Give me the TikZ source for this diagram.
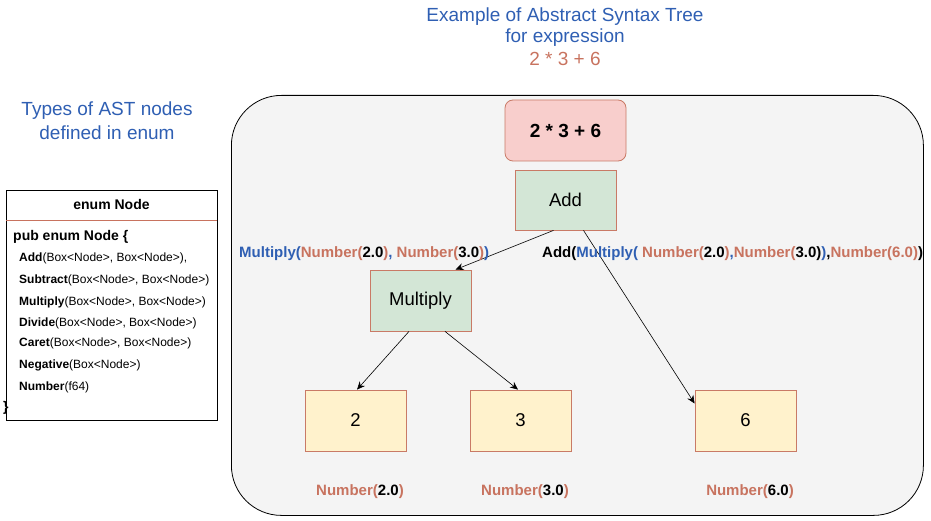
\documentclass[tikz,border=0pt]{standalone}
\usepackage{fontspec}
\setmainfont{Liberation Sans}
\usetikzlibrary{arrows.meta}
\definecolor{astblue}{HTML}{2F5FB3}
\definecolor{salmon}{HTML}{C8735F}
\definecolor{bstroke}{HTML}{C97A66}
\definecolor{pinkfill}{HTML}{F8CECC}
\definecolor{greenfill}{HTML}{D3E6D6}
\definecolor{yellowfill}{HTML}{FFF2CC}
\definecolor{bgc}{HTML}{F4F4F4}
\newcommand{\fs}[1]{\fontsize{#1}{#1}\selectfont}
\newcommand{\sal}[1]{\textcolor{salmon}{#1}}
\newcommand{\blu}[1]{\textcolor{astblue}{#1}}
\begin{document}
\begin{tikzpicture}[x=1pt,y=-1pt,
  treebox/.style={draw=bstroke, line width=0.8pt, minimum width=101pt, minimum height=61pt, inner sep=0pt, font=\fs{18.5}},
  opbox/.style={treebox, fill=greenfill},
  numbox/.style={treebox, fill=yellowfill},
  conn/.style={-{Stealth[length=8pt,width=7pt]}, line width=0.6pt, black},
  lbl/.style={inner sep=0pt, font=\bfseries\fs{15}},
  title/.style={inner sep=0pt, font=\fs{19}, text=astblue},
  enumtxt/.style={inner sep=0pt, anchor=west, font=\fs{12}}
]
\useasboundingbox (0,0) rectangle (931,521);
% panel
\node[draw=black, line width=0.8pt, fill=bgc, rounded corners=50pt, minimum width=692pt, minimum height=420pt, anchor=north west, inner sep=0pt] (panel) at (231,95) {};
% titles
\node[title] (t1) at (565,16.5) {Example of Abstract Syntax Tree};
\node[title] (t2) at (565,37.5) {for expression};
\node[title, text=salmon] (t3) at (565,59) {2 * 3 + 6};
\node[title] (ty1) at (107,111) {Types of AST nodes};
\node[title] (ty2) at (107,133) {defined in enum};
% enum box
\node[draw=black, line width=0.8pt, fill=white, minimum width=211pt, minimum height=230pt, anchor=north west, inner sep=0pt] (enumbox) at (6,190) {};
\coordinate (dl) at (6,220);
\coordinate (dr) at (217,220);
\draw[salmon, line width=0.8pt] (dl) -- (dr);
\node[inner sep=0pt, font=\bfseries\fs{14}] (ehead) at (111.5,204) {enum Node};
\node[enumtxt, font=\bfseries\fs{14}] (e0) at (13,237) {pub enum Node \{};
\node[enumtxt] (e1) at (19,258) {\textbf{Add}(Box<Node>, Box<Node>),};
\node[enumtxt] (e2) at (19,280) {\textbf{Subtract}(Box<Node>, Box<Node>)};
\node[enumtxt] (e3) at (19,302) {\textbf{Multiply}(Box<Node>, Box<Node>)};
\node[enumtxt] (e4) at (19,323) {\textbf{Divide}(Box<Node>, Box<Node>)};
\node[enumtxt] (e5) at (19,343) {\textbf{Caret}(Box<Node>, Box<Node>)};
\node[enumtxt] (e6) at (19,365) {\textbf{Negative}(Box<Node>)};
\node[enumtxt] (e7) at (19,387) {\textbf{Number}(f64)};
\node[enumtxt, font=\bfseries\fs{14}] (e8) at (3,408) {\}};
% tree
\node[draw=bstroke, line width=0.8pt, fill=pinkfill, rounded corners=8pt, minimum width=121pt, minimum height=61pt, inner sep=0pt, font=\bfseries\fs{19}] (expr) at (565.5,130.5) {2 * 3 + 6};
\node[opbox, minimum height=60pt] (add) at (565.5,200) {Add};
\node[opbox] (mul) at (420.5,300.5) {Multiply};
\node[numbox] (n2) at (355.5,420.5) {2};
\node[numbox] (n3) at (520.5,420.5) {3};
\node[numbox] (n6) at (745.5,420.5) {6};
% connectors
\draw[conn] ([xshift=-12pt]add.south) -- ([xshift=35pt]mul.north);
\draw[conn] ([xshift=18pt]add.south) -- ([yshift=17pt]n6.west);
\draw[conn] ([xshift=-11.5pt]mul.south) -- ([xshift=1.5pt]n2.north);
\draw[conn] ([xshift=24.5pt]mul.south) -- ([xshift=-2.5pt]n3.north);
% labels
\node[lbl, anchor=west] (lmul) at (239,254) {\blu{Multiply(}\sal{Number(}2.0\sal{)}\blu{, }\sal{Number(}3.0\sal{)}\blu{)}};
\node[lbl, anchor=west] (ladd) at (542,254) {Add(\blu{Multiply( }\sal{Number(}2.0\sal{)}\blu{,}\sal{Number(}3.0)\blu{)},\sal{Number(6.0)})};
\node[lbl] (l2) at (360,492) {\sal{Number(}2.0\sal{)}};
\node[lbl] (l3) at (525,492) {\sal{Number(}3.0\sal{)}};
\node[lbl] (l6) at (750,492) {\sal{Number(}6.0\sal{)}};
\end{tikzpicture}
\end{document}
